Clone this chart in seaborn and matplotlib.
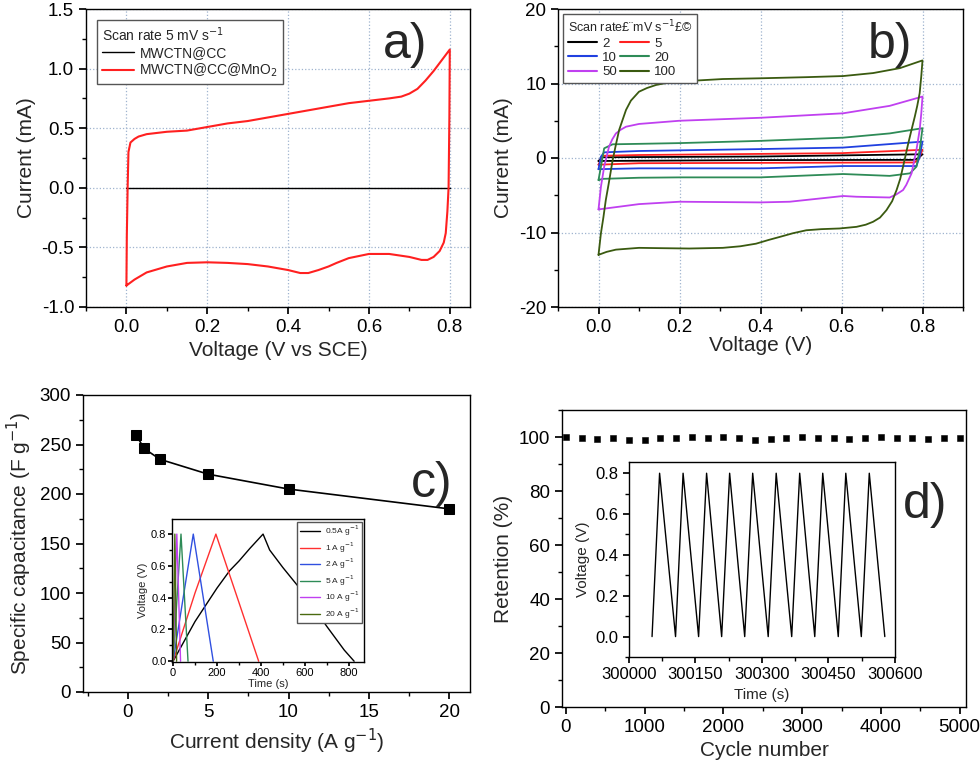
import numpy as np
import pandas as pd
import matplotlib
matplotlib.use("Agg")
import matplotlib.pyplot as plt
from matplotlib.ticker import MultipleLocator
import seaborn as sns

# %% données lues sur la figure
# a) CV a 5 mV/s (branche aller puis retour)
cv_a_V = [0.0, 0.001, 0.003, 0.005, 0.01, 0.02, 0.03, 0.05, 0.1, 0.15, 0.2, 0.25, 0.3, 0.35,
          0.4, 0.45, 0.5, 0.55, 0.6, 0.65, 0.68, 0.7, 0.72, 0.74, 0.76, 0.78, 0.8,
          0.799, 0.797, 0.794, 0.79, 0.785, 0.775, 0.76, 0.745, 0.73, 0.7, 0.65, 0.6, 0.55,
          0.52, 0.5, 0.475, 0.45, 0.43, 0.4, 0.35, 0.3, 0.25, 0.2, 0.15, 0.1, 0.05, 0.02, 0.0]
cv_a_I = [-0.82, -0.4, 0.0, 0.3, 0.38, 0.41, 0.43, 0.45, 0.47, 0.48, 0.51, 0.54, 0.56, 0.59,
          0.62, 0.65, 0.68, 0.71, 0.73, 0.75, 0.765, 0.79, 0.83, 0.9, 0.98, 1.07, 1.16,
          0.6, 0.0, -0.2, -0.38, -0.46, -0.53, -0.58, -0.605, -0.605, -0.58, -0.555, -0.555,
          -0.59, -0.63, -0.66, -0.69, -0.715, -0.715, -0.69, -0.66, -0.64, -0.63, -0.625,
          -0.63, -0.66, -0.71, -0.77, -0.82]
cv_cc_V = [0.0, 0.8]
cv_cc_I = [0.0, 0.0]

# b) CV a differentes vitesses (mV/s)
scan_rates = ["2", "5", "10", "20", "50", "100"]
cv_b_V = {
    "2": [0.0, 0.01, 0.4, 0.8, 0.79, 0.78, 0.4, 0.0],
    "5": [0.0, 0.01, 0.1, 0.4, 0.6, 0.8, 0.79, 0.78, 0.4, 0.1, 0.0],
    "10": [0.0, 0.006, 0.014, 0.1, 0.4, 0.604, 0.8, 0.793, 0.785, 0.604, 0.4, 0.1, 0.0],
    "20": [0.0, 0.006, 0.014, 0.035, 0.1, 0.2, 0.4, 0.604, 0.719, 0.8,
           0.793, 0.785, 0.769, 0.719, 0.604, 0.4, 0.2, 0.1, 0.01, 0.0],
    "50": [0.0, 0.006, 0.014, 0.026, 0.034, 0.043, 0.055, 0.068, 0.1, 0.2, 0.4, 0.604, 0.719,
           0.8, 0.797, 0.793, 0.785, 0.773, 0.76, 0.752, 0.735, 0.719, 0.637, 0.604, 0.472,
           0.4, 0.2, 0.1, 0.0],
    "100": [0.0, 0.006, 0.012, 0.018, 0.025, 0.035, 0.043, 0.051, 0.06, 0.068, 0.08, 0.1, 0.12,
            0.142, 0.17, 0.2, 0.307, 0.4, 0.513, 0.604, 0.678, 0.744, 0.8,
            0.797, 0.793, 0.787, 0.781, 0.773, 0.765, 0.752, 0.745, 0.736, 0.725, 0.711, 0.695,
            0.678, 0.66, 0.637, 0.595, 0.55, 0.513, 0.48, 0.447, 0.42, 0.389, 0.35, 0.307,
            0.224, 0.15, 0.1, 0.043, 0.02, 0.0],
}
cv_b_I = {
    "2": [-0.4, 0.1, 0.2, 0.5, 0.0, -0.25, -0.28, -0.4],
    "5": [-0.9, 0.3, 0.4, 0.55, 0.65, 1.1, -0.2, -0.6, -0.65, -0.7, -0.9],
    "10": [-1.5, 0.18, 0.76, 0.94, 1.2, 1.4, 2.2, 0.18, -1.08, -1.08, -1.39, -1.39, -1.5],
    "20": [-2.96, -1.17, 1.3, 1.84, 1.9, 2.0, 2.3, 2.73, 3.3, 4.0,
           1.08, -1.17, -2.06, -2.4, -2.15, -2.6, -2.6, -2.65, -2.8, -2.96],
    "50": [-6.9, -3.86, -1.17, 1.52, 2.5, 3.3, 3.8, 4.2, 4.57, 5.0, 5.4, 6.0, 7.0,
           8.25, 6.0, 3.77, 1.08, -2.06, -3.6, -4.3, -4.9, -5.3, -5.2, -5.1, -5.87,
           -5.96, -5.87, -6.19, -6.9],
    "100": [-13.0, -10.1, -8.0, -5.65, -3.5, -0.27, 1.8, 3.77, 5.2, 6.46, 7.7, 8.9, 9.4,
            9.8, 10.1, 10.27, 10.6, 10.7, 10.85, 11.0, 11.4, 12.06, 13.1,
            11.0, 8.7, 7.0, 5.56, 3.8, 2.0, -1.17, -2.8, -4.3, -5.8, -7.0, -8.0,
            -8.56, -8.95, -9.24, -9.46, -9.55, -9.7, -10.1, -10.6, -11.0, -11.5, -11.85, -12.06,
            -12.15, -12.1, -12.06, -12.3, -12.6, -13.0],
}
couleurs_b = {"2": "black", "5": "#ff2020", "10": "#2040e0", "20": "#2e8b57",
              "50": "#c040f0", "100": "#3a5a10"}

# c) capacite specifique
densite = [0.5, 1, 2, 5, 10, 20]
capacite = [260, 246, 235, 220, 205, 185]

# c) encart : charge / decharge galvanostatique
gcd_labels = ["0.5A g$^{-1}$", "1 A g$^{-1}$", "2 A g$^{-1}$", "5 A g$^{-1}$",
              "10 A g$^{-1}$", "20 A g$^{-1}$"]
gcd_t = [
    [0, 100, 200, 258, 300, 350, 410, 440, 500, 600, 700, 780, 825],
    [0, 100, 195, 300, 390],
    [0, 92, 183],
    [0, 36, 68],
    [0, 17, 34],
    [0, 8, 16],
]
gcd_V = [
    [0, 0.25, 0.46, 0.57, 0.63, 0.71, 0.8, 0.7, 0.59, 0.42, 0.22, 0.07, 0.0],
    [0, 0.43, 0.8, 0.37, 0.0],
    [0, 0.8, 0.0],
    [0, 0.8, 0.0],
    [0, 0.8, 0.0],
    [0, 0.8, 0.0],
]
gcd_couleurs = ["black", "#ff3030", "#3050e0", "#2e8b57", "#c040f0", "#4a6a10"]

# d) retention
cycles = list(range(0, 5001, 200))
retention = [100, 99.6, 99.4, 99.6, 98.9, 98.9, 99.6, 99.8, 100, 99.6, 100, 99.6, 98.9,
             99.3, 99.6, 100, 99.6, 99.6, 99.3, 99.6, 100, 99.6, 99.6, 99.3, 99.6, 99.8]

# d) encart : 10 cycles de charge/decharge
cyc_t = [300052, 300069, 300105, 300122, 300157, 300175, 300209, 300227, 300261, 300279,
         300314, 300332, 300367, 300385, 300419, 300437, 300472, 300489, 300524, 300542, 300577]
cyc_V = [0, 0.8, 0, 0.8, 0, 0.8, 0, 0.8, 0, 0.8, 0, 0.8, 0, 0.8, 0, 0.8, 0, 0.8, 0, 0.8, 0]

# %% style
sns.set_theme(style="ticks")
plt.rcParams["font.family"] = ["Liberation Sans", "DejaVu Sans"]
plt.rcParams.update({
    "xtick.direction": "out", "ytick.direction": "out",
    "xtick.major.size": 5, "ytick.major.size": 5,
    "xtick.minor.size": 3, "ytick.minor.size": 3,
    "axes.linewidth": 1.0, "axes.edgecolor": "black",
    "xtick.color": "black", "ytick.color": "black",
    "axes.unicode_minus": False,
})

fig = plt.figure(figsize=(9.8, 7.68), dpi=100)


def rect(l, t, r, b):
    return [l / 980, 1 - b / 768, (r - l) / 980, (b - t) / 768]


def style_axe(ax, fs=13.5):
    for s in ax.spines.values():
        s.set_visible(True)
        s.set_color("black")
    ax.tick_params(axis="both", which="major", labelsize=fs, top=False, right=False)
    ax.tick_params(axis="both", which="minor", top=False, right=False)


grille = dict(color="#9fb3cf", linestyle=":", linewidth=0.9)
fs_lab = 15

# %% a)
ax = fig.add_axes(rect(86, 9, 470, 307))
sns.lineplot(x=cv_cc_V, y=cv_cc_I, sort=False, estimator=None, color="black", lw=1.0,
             ax=ax, label="MWCTN@CC")
sns.lineplot(x=cv_a_V, y=cv_a_I, sort=False, estimator=None, color="#ff2020", lw=1.5,
             ax=ax, label="MWCTN@CC@MnO$_2$")
ax.set_xlim(-0.1, 0.85)
ax.set_ylim(-1.0, 1.5)
ax.xaxis.set_major_locator(MultipleLocator(0.2))
ax.xaxis.set_minor_locator(MultipleLocator(0.1))
ax.yaxis.set_major_locator(MultipleLocator(0.5))
ax.yaxis.set_minor_locator(MultipleLocator(0.25))
ax.grid(True, which="major", **grille)
style_axe(ax)
ax.set_xlabel("Voltage (V vs SCE)", fontsize=fs_lab)
ax.set_ylabel("Current (mA)", fontsize=fs_lab)
ax.legend(title="Scan rate 5 mV s$^{-1}$", loc="upper left", fontsize=10,
          title_fontsize=10, fancybox=False, edgecolor="#555555", framealpha=1,
          handlelength=2.3, borderaxespad=0.8, alignment="left", handletextpad=0.4,
          labelspacing=0.15, borderpad=0.35)
ax.text(0.83, 0.88, "a)", transform=ax.transAxes, fontsize=36, ha="center", va="center")

# %% b)
ax = fig.add_axes(rect(558, 9, 963, 307))
for sr in scan_rates:
    sns.lineplot(x=cv_b_V[sr], y=cv_b_I[sr], sort=False, estimator=None,
                 color=couleurs_b[sr], lw=1.3, ax=ax)
ax.set_xlim(-0.1, 0.9)
ax.set_ylim(-20, 20)
ax.xaxis.set_major_locator(MultipleLocator(0.2))
ax.xaxis.set_minor_locator(MultipleLocator(0.1))
ax.yaxis.set_major_locator(MultipleLocator(10))
ax.yaxis.set_minor_locator(MultipleLocator(5))
ax.grid(True, which="major", **grille)
style_axe(ax)
ax.set_xlabel("Voltage (V)", fontsize=fs_lab, labelpad=0)
ax.set_ylabel("Current (mA)", fontsize=fs_lab)
ordre = ["2", "10", "50", "5", "20", "100"]
poignees = [plt.Line2D([], [], color=couleurs_b[s], lw=1.5) for s in ordre]
ax.legend(poignees, ordre, title="Scan rate\u00a3\u00a8mV s$^{-1}$\u00a3\u00a9", ncol=2,
          loc="upper left", fontsize=9.5, title_fontsize=9, fancybox=False,
          edgecolor="#555555", framealpha=1, handlelength=2.2, columnspacing=0.2,
          borderaxespad=0.4, alignment="left", labelspacing=0.15, handletextpad=0.4,
          borderpad=0.35)
ax.text(0.82, 0.88, "b)", transform=ax.transAxes, fontsize=36, ha="center", va="center")

# %% c)
ax = fig.add_axes(rect(83, 395, 470, 692))
df_c = pd.DataFrame({"densite": densite, "capacite": capacite})
sns.lineplot(data=df_c, x="densite", y="capacite", marker="s", markersize=7.5, color="black",
             lw=1.2, markeredgecolor="black", ax=ax)
ax.set_xlim(-2.8, 21.3)
ax.set_ylim(0, 300)
ax.xaxis.set_major_locator(MultipleLocator(5))
ax.xaxis.set_minor_locator(MultipleLocator(2.5))
ax.yaxis.set_major_locator(MultipleLocator(50))
ax.yaxis.set_minor_locator(MultipleLocator(25))
style_axe(ax)
ax.set_xlabel("Current density (A g$^{-1}$)", fontsize=fs_lab)
ax.set_ylabel("Specific capacitance (F g$^{-1}$)", fontsize=fs_lab)
ax.text(0.9, 0.7, "c)", transform=ax.transAxes, fontsize=36, ha="center", va="center")

axi = fig.add_axes(rect(172, 519, 364, 662))
for t, v, c, lab in zip(gcd_t, gcd_V, gcd_couleurs, gcd_labels):
    sns.lineplot(x=t, y=v, sort=False, estimator=None, color=c, lw=1.0, ax=axi, label=lab)
axi.set_xlim(-5, 870)
axi.set_ylim(-0.005, 0.895)
axi.xaxis.set_major_locator(MultipleLocator(200))
axi.xaxis.set_minor_locator(MultipleLocator(100))
axi.yaxis.set_major_locator(MultipleLocator(0.2))
axi.yaxis.set_minor_locator(MultipleLocator(0.1))
style_axe(axi, fs=8)
axi.tick_params(which="major", length=3, pad=1)
axi.tick_params(which="minor", length=2)
axi.set_xlabel("Time (s)", fontsize=8, labelpad=1)
axi.set_ylabel("Voltage (V)", fontsize=8, labelpad=2)
axi.legend(loc="upper right", fontsize=6, fancybox=False, edgecolor="#555555", framealpha=1,
           handlelength=2.5, labelspacing=0.25, borderpad=0.3, borderaxespad=0.3,
           handletextpad=0.5)

# %% d)
ax = fig.add_axes(rect(562, 410, 966, 707))
df_d = pd.DataFrame({"cycle": cycles, "retention": retention})
sns.scatterplot(data=df_d, x="cycle", y="retention", marker="s", s=22, color="black",
                edgecolor="black", ax=ax)
ax.set_xlim(-50, 5080)
ax.set_ylim(0, 110)
ax.xaxis.set_major_locator(MultipleLocator(1000))
ax.xaxis.set_minor_locator(MultipleLocator(500))
ax.yaxis.set_major_locator(MultipleLocator(20))
ax.yaxis.set_minor_locator(MultipleLocator(10))
style_axe(ax)
ax.set_xlabel("Cycle number", fontsize=fs_lab)
ax.set_ylabel("Retention (%)", fontsize=fs_lab)
ax.text(0.9, 0.68, "d)", transform=ax.transAxes, fontsize=36, ha="center", va="center")

axi = fig.add_axes(rect(629, 462, 895, 657))
sns.lineplot(x=cyc_t, y=cyc_V, sort=False, estimator=None, color="black", lw=1.0, ax=axi)
axi.set_xlim(300000, 300600)
axi.set_ylim(-0.1, 0.855)
axi.xaxis.set_major_locator(MultipleLocator(150))
axi.xaxis.set_minor_locator(MultipleLocator(75))
axi.yaxis.set_major_locator(MultipleLocator(0.2))
axi.yaxis.set_minor_locator(MultipleLocator(0.1))
axi.ticklabel_format(axis="x", useOffset=False, style="plain")
style_axe(axi, fs=12)
axi.tick_params(which="major", length=4)
axi.set_xlabel("Time (s)", fontsize=11)
axi.set_ylabel("Voltage (V)", fontsize=11)

fig.savefig("out.png", dpi=100)
